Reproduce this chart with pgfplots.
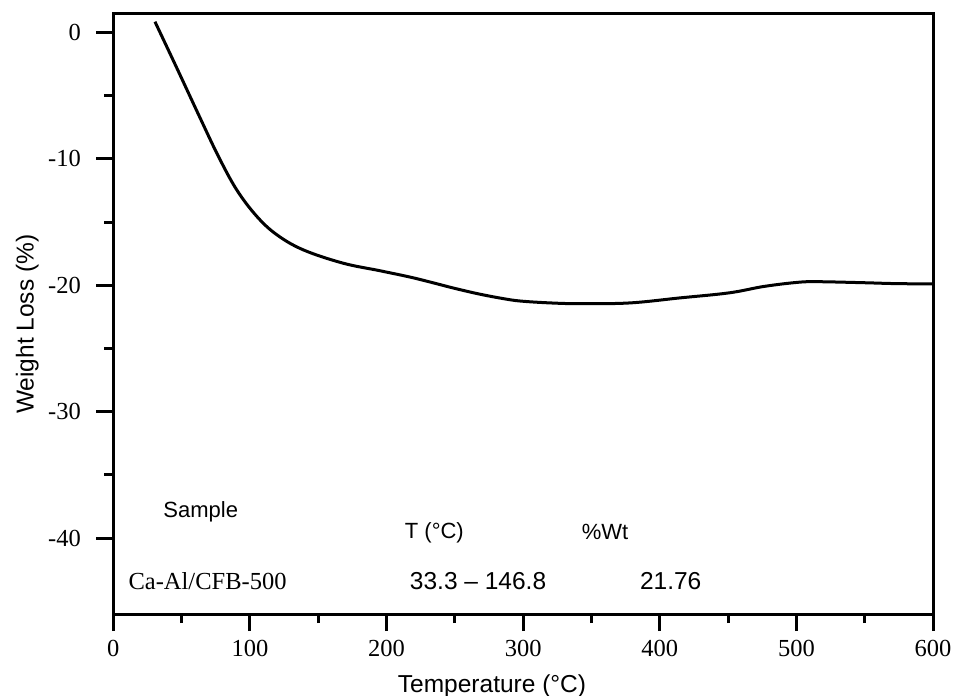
\documentclass[border=0pt]{standalone}
\usepackage{pgfplots}
\pgfplotsset{compat=1.18}
\usepackage{fontspec}
\setmainfont{Liberation Sans}
\newfontfamily\seriffont{Liberation Serif}
\newfontfamily\sansfont{Liberation Sans}
\begin{document}
\begin{tikzpicture}
\begin{axis}[
  at={(0,0)}, anchor=south west,
  scale only axis,
  width=819.7bp, height=600bp,
  xmin=0, xmax=600, ymin=-46, ymax=1.45,
  xtick={0,100,...,600},
  ytick={-40,-30,-20,-10,0},
  minor x tick num=1,
  minor y tick num=1,
  tick align=outside,
  xtick pos=bottom, ytick pos=left,
  major tick length=17bp,
  minor tick length=9bp,
  axis line style={line width=3bp},
  every tick/.style={line width=3bp, black},
  /pgf/number format/assume math mode=true,
  ticklabel style={font=\seriffont\fontsize{24.5bp}{28bp}\selectfont},
  xticklabel style={yshift=-6bp},
  yticklabel style={xshift=-12bp},
  xlabel={Temperature (°C)},
  ylabel={Weight Loss (\%)},
  label style={font=\sansfont\fontsize{24.5bp}{28bp}\selectfont},
  xlabel style={at={(axis description cs:0.462,-0.13)}, anchor=base},
  ylabel style={at={(axis description cs:-0.105,0.483)}, anchor=center, rotate=0},
  clip=false,
]
\addplot[black, line width=3bp, smooth, tension=0.6] coordinates {
(30.5,0.84) (46.4,-2.8) (62.8,-6.6) (76.9,-9.8) (90.3,-12.45) (105,-14.55)
(119.6,-16.0) (139,-17.2) (168,-18.25) (195,-18.85) (217,-19.35) (232,-19.75)
(250,-20.25) (268,-20.7) (285,-21.05) (298,-21.25) (320,-21.4) (342,-21.46)
(378,-21.4) (415,-21.0) (451,-20.6) (476,-20.1) (500,-19.78) (515,-19.72)
(549,-19.8) (572,-19.87) (600,-19.9)
};
\node[font=\sansfont\fontsize{22bp}{26bp}\selectfont] at (axis cs:64,-37.9) {Sample};
\node[font=\sansfont\fontsize{22bp}{26bp}\selectfont] at (axis cs:235,-39.55) {T (°C)};
\node[font=\sansfont\fontsize{22bp}{26bp}\selectfont] at (axis cs:360,-39.55) {\%Wt};
\node[font=\seriffont\fontsize{24.5bp}{28bp}\selectfont] at (axis cs:69,-43.4) {Ca-Al/CFB-500};
\node[font=\sansfont\fontsize{24.5bp}{28bp}\selectfont] at (axis cs:267,-43.4) {33.3 – 146.8};
\node[font=\sansfont\fontsize{24.5bp}{28bp}\selectfont] at (axis cs:408,-43.4) {21.76};
\end{axis}
\pgfresetboundingbox
\path[use as bounding box] (-113.3bp,-82bp) rectangle (839.7bp,614bp);
\end{tikzpicture}
\end{document}
